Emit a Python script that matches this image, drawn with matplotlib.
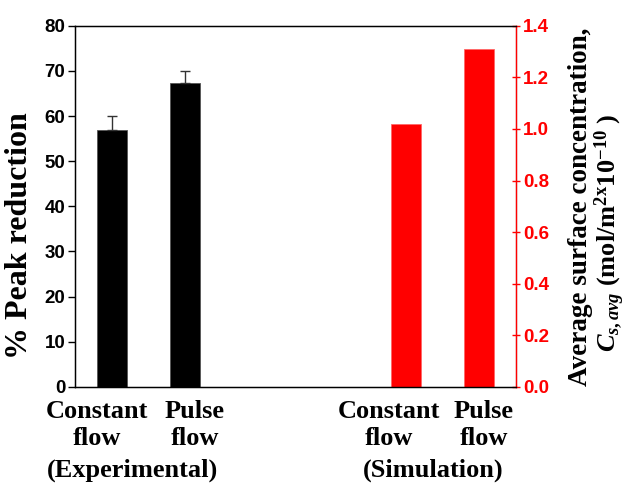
import matplotlib
matplotlib.use("Agg")
import matplotlib.pyplot as plt
from matplotlib.transforms import blended_transform_factory

# % peak reduction measured in the flow cell
exp_positions = [1, 2]
exp_reduction = [57.0, 67.3]
exp_error = [2.9, 2.7]

# simulated average surface concentration (x1e-10 mol/m^2)
sim_positions = [5, 6]
sim_concentration = [1.018, 1.31]

flow_labels = ["Constant\nflow", "Pulse\nflow", "Constant\nflow", "Pulse\nflow"]
group_labels = ["(Experimental)", "(Simulation)"]

serif = "Liberation Serif"
sans = "Liberation Sans"
plt.rcParams["mathtext.fontset"] = "custom"
plt.rcParams["mathtext.rm"] = "Liberation Serif:bold"
plt.rcParams["mathtext.it"] = "Liberation Serif:bold:italic"
plt.rcParams["mathtext.bf"] = "Liberation Serif:bold"

fig = plt.figure(figsize=(6.3, 4.86), dpi=100)
ax = fig.add_axes([0.119, 0.204, 0.700, 0.743])
ax2 = ax.twinx()

ax.bar(exp_positions, exp_reduction, width=0.41, color="black",
       edgecolor="#555555", linewidth=0.6)
ax.errorbar(exp_positions, exp_reduction,
            yerr=[[0] * len(exp_error), exp_error],
            fmt="none", ecolor="#333333", elinewidth=1.0, capsize=3.6, capthick=1.0)
ax2.bar(sim_positions, sim_concentration, width=0.41, color="red",
        edgecolor="#ff6666", linewidth=0.6)

ax.set_xlim(0.5, 6.5)
ax.set_ylim(0, 80)
ax2.set_ylim(0, 1.4)
ax.set_xticks([])

ax.set_yticks(range(0, 81, 10))
ax2.set_yticks([i / 10 for i in range(0, 15, 2)])
ax2.set_yticklabels([f"{i / 10:.1f}" for i in range(0, 15, 2)])

ax.tick_params(axis="y", direction="out", length=5, width=1, pad=2)
ax2.tick_params(axis="y", direction="inout", length=6, width=1, pad=2,
                colors="red")
for lbl in ax.get_yticklabels() + ax2.get_yticklabels():
    lbl.set_fontfamily(sans)
    lbl.set_fontweight("bold")
    lbl.set_fontsize(13.5)
for lbl in ax2.get_yticklabels():
    lbl.set_color("red")

for side in ("left", "top", "bottom"):
    ax2.spines[side].set_color("black")
ax2.spines["right"].set_color("red")
for sp in ax2.spines.values():
    sp.set_linewidth(1.0)

ax.set_ylabel("% Peak reduction", fontfamily=serif, fontweight="bold",
              fontsize=23)
ax.yaxis.set_label_coords(-0.093, 0.42)

# right-hand axis title, two lines
fig.text(0.921, 0.574, "Average surface concentration,", rotation=90,
         ha="center", va="center", fontfamily=serif, fontweight="bold",
         fontsize=19.5)
fig.text(0.968, 0.52,
         r"$C_{s,avg}$ (mol/m$^{\mathrm{2x}}$10$^{\mathrm{-10}}$ )",
         rotation=90, ha="center", va="center", fontfamily=serif,
         fontweight="bold", fontsize=19)

# category text under the bars
trans = blended_transform_factory(ax.transData, fig.transFigure)
flow_x = [0.80, 2.13, 4.77, 6.06]
for x, txt in zip(flow_x, flow_labels):
    fig.text(x, 0.125, txt, transform=trans, ha="center", va="center",
             fontfamily=serif, fontweight="bold", fontsize=19, linespacing=1.2)
group_x = [1.28, 5.37]
for x, txt in zip(group_x, group_labels):
    fig.text(x, 0.033, txt, transform=trans, ha="center", va="center",
             fontfamily=serif, fontweight="bold", fontsize=19)

fig.savefig("out.png", dpi=100)
